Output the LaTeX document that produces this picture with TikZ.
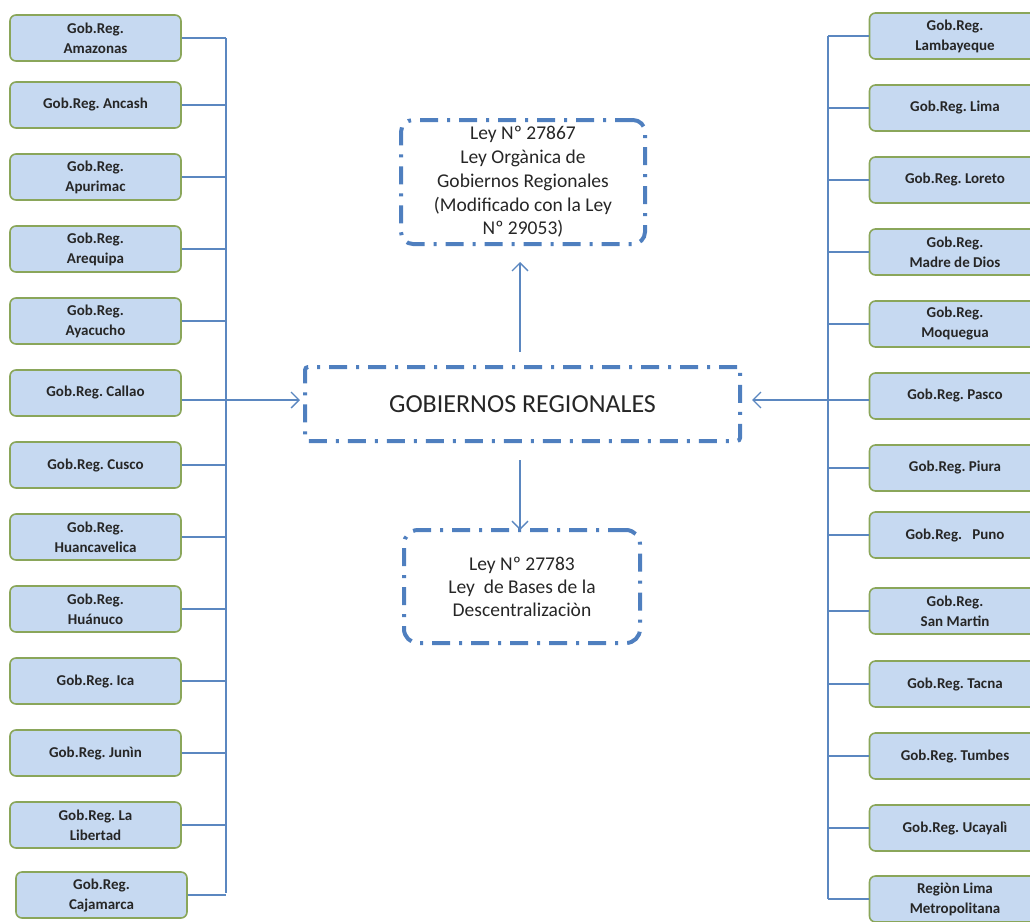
\documentclass[tikz,border=0pt]{standalone}
\usepackage{fontspec}
\setmainfont{Carlito}
\usetikzlibrary{arrows.meta}
\definecolor{boxfill}{HTML}{C6D9F1}
\definecolor{boxline}{HTML}{8AA65A}
\definecolor{conn}{HTML}{5B87C0}
\definecolor{dashc}{HTML}{4F7FBF}
\definecolor{txt}{HTML}{262626}
\tikzset{
  regbox/.style={rounded corners=6pt, fill=boxfill, draw=boxline, line width=1.6pt,
    minimum width=171pt, minimum height=46pt, inner sep=2pt, align=center,
    text=txt, font=\frenchspacing\bfseries\fontsize{15}{20}\selectfont},
  lawbox/.style={draw=dashc, line width=4pt, dash pattern=on 18pt off 9pt on 3pt off 9pt,
    align=center, text=txt, inner sep=0pt},
  conline/.style={draw=conn, line width=1.3pt},
  arr/.style={conline, -{Straight Barb[length=8pt,width=16pt,line width=1.3pt]}}
}
\begin{document}
\begin{tikzpicture}[x=1pt,y=-1pt]
\useasboundingbox (0,0) rectangle (1030,921);
% left column
\node[regbox] (am) at (95.5,38) {Gob.Reg.\\Amazonas};
\node[regbox] (an) at (95.5,105) {Gob.Reg. Ancash};
\node[regbox] (ap) at (95.5,177) {Gob.Reg.\\Apurimac};
\node[regbox] (ar) at (95.5,249) {Gob.Reg.\\Arequipa};
\node[regbox] (ay) at (95.5,321) {Gob.Reg.\\Ayacucho};
\node[regbox] (ca) at (95.5,393) {Gob.Reg. Callao};
\node[regbox] (cu) at (95.5,465) {Gob.Reg. Cusco};
\node[regbox] (hv) at (95.5,537) {Gob.Reg.\\Huancavelica};
\node[regbox] (hn) at (95.5,609) {Gob.Reg.\\Huánuco};
\node[regbox] (ic) at (95.5,681) {Gob.Reg. Ica};
\node[regbox] (ju) at (95.5,753) {Gob.Reg. Junìn};
\node[regbox] (ll) at (95.5,825) {Gob.Reg. La\\Libertad};
\node[regbox] (cj) at (101.5,895) {Gob.Reg.\\Cajamarca};
% right column
\node[regbox] (lb) at (955,36) {Gob.Reg.\\Lambayeque};
\node[regbox] (li) at (955,108) {Gob.Reg. Lima};
\node[regbox] (lo) at (955,180) {Gob.Reg. Loreto};
\node[regbox] (md) at (955,252) {Gob.Reg.\\Madre de Dios};
\node[regbox] (mo) at (955,324) {Gob.Reg.\\Moquegua};
\node[regbox] (pa) at (955,396) {Gob.Reg. Pasco};
\node[regbox] (pi) at (955,468) {Gob.Reg. Piura};
\node[regbox] (pu) at (955,535) {Gob.Reg.\ \ \ Puno};
\node[regbox] (sm) at (955,611) {Gob.Reg.\\San Martin};
\node[regbox] (ta) at (955,684) {Gob.Reg. Tacna};
\node[regbox] (tu) at (955,756) {Gob.Reg. Tumbes};
\node[regbox] (uc) at (955,828) {Gob.Reg. Ucayalì};
\node[regbox] (lm) at (955,899) {Regiòn Lima\\Metropolitana};
% central boxes
\node[lawbox, rounded corners=3pt, minimum width=435pt, minimum height=74pt,
  font=\fontsize{26}{28}\selectfont] (gr) at (522.5,404) {GOBIERNOS REGIONALES};
\node[lawbox, rounded corners=12pt, minimum width=244pt, minimum height=124pt,
  font=\fontsize{19.5}{23.8}\selectfont] (top) at (523,182)
  {Ley Nº 27867\\Ley Orgànica de\\Gobiernos Regionales\\(Modificado con la Ley\\Nº 29053)};
\node[lawbox, rounded corners=14pt, minimum width=236pt, minimum height=113pt,
  font=\fontsize{19.5}{23}\selectfont] (bot) at (522,586.5)
  {Ley Nº 27783\\Ley\ \ de Bases de la\\Descentralizaciòn};
% trunks
\coordinate (ltop) at (226,38);
\coordinate (lbot) at (226,893);
\coordinate (rtop) at (828,36);
\coordinate (rbot) at (828,899);
\draw[conline] (ltop) -- (lbot);
\draw[conline] (rtop) -- (rbot);
\foreach \n in {am,an,ap,ar,ay,cu,hv,hn,ic,ju,ll,cj}
  \draw[conline] (\n.east) -- (\n.east -| ltop);
\foreach \n in {lb,li,lo,md,mo,pi,pu,sm,ta,tu,uc,lm}
  \draw[conline] (\n.west) -- (\n.west -| rtop);
\coordinate (la) at (300,400);
\coordinate (ra) at (752,400);
\draw[arr] (ca.east |- la) -- (la);
\draw[arr] (pa.west |- ra) -- (ra);
\coordinate (ga) at (520,352);
\coordinate (gb) at (520,262);
\coordinate (gc) at (520,460);
\coordinate (gd) at (520,530);
\draw[arr] (ga) -- (gb);
\draw[arr] (gc) -- (gd);
\end{tikzpicture}
\end{document}
